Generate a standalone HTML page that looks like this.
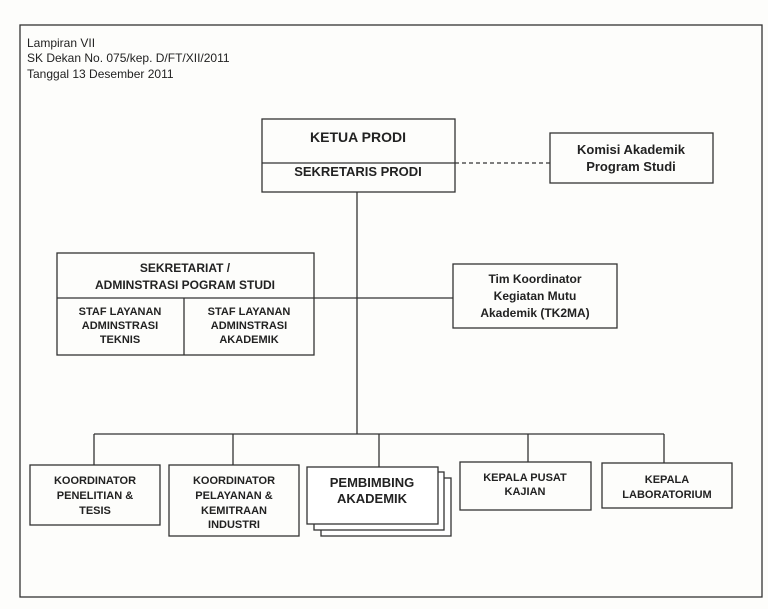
<!DOCTYPE html>
<html><head><meta charset="utf-8"><style>
html,body{margin:0;padding:0;background:#fff;}
svg{display:block;}
text{font-family:"Liberation Sans Narrow","Liberation Sans",Arial,sans-serif;fill:#222;}
</style></head><body>
<svg width="768" height="609" viewBox="0 0 768 609" xmlns="http://www.w3.org/2000/svg">
<rect x="0" y="0" width="768" height="609" fill="#fdfdfb"/>
<g fill="none" stroke="#333" stroke-width="1.3">
<rect x="20" y="25" width="742" height="572"/>
<rect x="262" y="119" width="193" height="73"/>
<line x1="262" y1="163" x2="455" y2="163"/>
<line x1="455" y1="163" x2="550" y2="163" stroke-dasharray="4,3"/>
<rect x="550" y="133" width="163" height="50"/>
<line x1="357" y1="192" x2="357" y2="434"/>
<rect x="57" y="253" width="257" height="102"/>
<line x1="57" y1="298" x2="453" y2="298"/>
<line x1="184" y1="298" x2="184" y2="355"/>
<rect x="453" y="264" width="164" height="64"/>
<line x1="94" y1="434" x2="664" y2="434"/>
<line x1="94" y1="434" x2="94" y2="465"/>
<line x1="233" y1="434" x2="233" y2="465"/>
<line x1="379" y1="434" x2="379" y2="467"/>
<line x1="528" y1="434" x2="528" y2="462"/>
<line x1="664" y1="434" x2="664" y2="463"/>
<rect x="30" y="465" width="130" height="60"/>
<rect x="169" y="465" width="130" height="71"/>
<rect x="321" y="478" width="130" height="58" fill="#fff"/>
<rect x="314" y="472" width="130" height="58" fill="#fff"/>
<rect x="307" y="467" width="131" height="57" fill="#fff"/>
<rect x="460" y="462" width="131" height="48"/>
<rect x="602" y="463" width="130" height="45"/>
</g>
<g font-size="12">
<text x="27" y="47">Lampiran VII</text>
<text x="27" y="62">SK Dekan No. 075/kep. D/FT/XII/2011</text>
<text x="27" y="78">Tanggal 13 Desember 2011</text>
</g>
<g text-anchor="middle" font-weight="bold">
<text x="358" y="142" font-size="14">KETUA PRODI</text>
<text x="358" y="176" font-size="13">SEKRETARIS  PRODI</text>
<text x="631" y="154" font-size="13">Komisi Akademik</text>
<text x="631" y="171" font-size="13">Program Studi</text>
<text x="185" y="272" font-size="12">SEKRETARIAT /</text>
<text x="185" y="289" font-size="12">ADMINSTRASI POGRAM STUDI</text>
<g font-size="11">
<text x="120" y="315">STAF LAYANAN</text>
<text x="120" y="329">ADMINSTRASI</text>
<text x="120" y="343">TEKNIS</text>
<text x="249" y="315">STAF LAYANAN</text>
<text x="249" y="329">ADMINSTRASI</text>
<text x="249" y="343">AKADEMIK</text>
</g>
<g font-size="12">
<text x="535" y="283">Tim Koordinator</text>
<text x="535" y="300">Kegiatan Mutu</text>
<text x="535" y="317">Akademik (TK2MA)</text>
</g>
<g font-size="11">
<text x="95" y="484">KOORDINATOR</text>
<text x="95" y="499">PENELITIAN &amp;</text>
<text x="95" y="514">TESIS</text>
<text x="234" y="484">KOORDINATOR</text>
<text x="234" y="499">PELAYANAN &amp;</text>
<text x="234" y="514">KEMITRAAN</text>
<text x="234" y="528">INDUSTRI</text>
<text x="525" y="481">KEPALA PUSAT</text>
<text x="525" y="495">KAJIAN</text>
<text x="667" y="483">KEPALA</text>
<text x="667" y="498">LABORATORIUM</text>
</g>
<text x="372" y="487" font-size="13">PEMBIMBING</text>
<text x="372" y="503" font-size="13">AKADEMIK</text>
</g>
</svg>
</body></html>
